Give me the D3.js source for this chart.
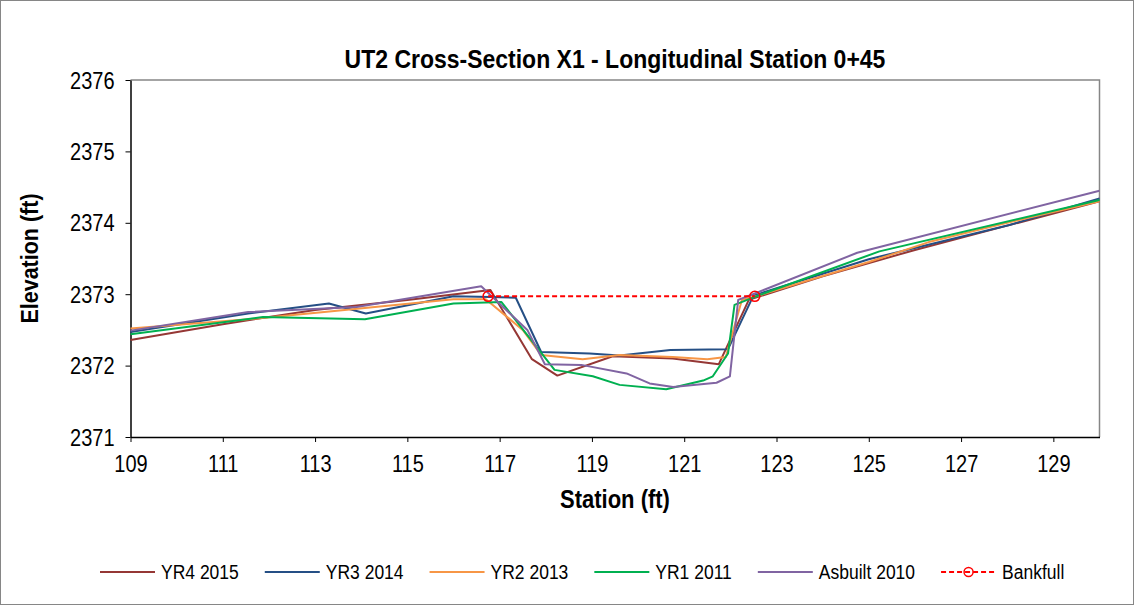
<!DOCTYPE html>
<html lang="en">
<head>
<meta charset="UTF-8">
<title>UT2 Cross-Section X1</title>
<script src="https://d3js.org/d3.v7.min.js"></script>
<style>
  body { margin:0; background:#fff; }
  text { font-family: "Liberation Sans", Arial, sans-serif; fill:#000; }
  .series { fill:none; stroke-width:2px; stroke-linejoin:round; }
  .axis path, .axis line { stroke:#000; }
</style>
</head>
<body>
<script>
// ---- data ----
var yr4Station = [109, 111, 113, 115, 116.8, 117.7, 118.25, 119.45, 120.75, 121.75, 122.4, 124, 126, 128, 130];
var yr4Elev    = [2372.36, 2372.58, 2372.78, 2372.92, 2373.06, 2372.09, 2371.86, 2372.13, 2372.10, 2372.02, 2372.92, 2373.25, 2373.62, 2373.96, 2374.30];

var yr3Station = [109, 111.55, 113.3, 114.1, 116, 116.8, 117.35, 117.9, 118.95, 119.6, 120.7, 121.95, 122.5, 125, 128.05, 130];
var yr3Elev    = [2372.47, 2372.73, 2372.87, 2372.73, 2372.97, 2372.96, 2372.95, 2372.19, 2372.17, 2372.14, 2372.22, 2372.23, 2372.98, 2373.49, 2373.97, 2374.34];

var yr2Station = [109, 111.55, 113.2, 116, 116.7, 117.5, 117.9, 118.8, 119.6, 120.75, 121.5, 121.9, 122.25, 122.55, 125, 126.3, 128, 130];
var yr2Elev    = [2372.52, 2372.65, 2372.75, 2372.93, 2372.93, 2372.50, 2372.15, 2372.09, 2372.15, 2372.12, 2372.09, 2372.12, 2372.92, 2372.97, 2373.45, 2373.73, 2374.00, 2374.30];

var yr1Station = [109, 111.87, 114.08, 116, 117.04, 118.19, 119.02, 119.6, 120.61, 121.41, 121.62, 121.95, 122.09, 122.6, 125.23, 130];
var yr1Elev    = [2372.44, 2372.68, 2372.65, 2372.87, 2372.89, 2371.94, 2371.85, 2371.73, 2371.67, 2371.79, 2371.85, 2372.17, 2372.85, 2372.98, 2373.60, 2374.32];

var asbStation = [109, 111.55, 113.9, 116.6, 117.6, 117.98, 118.77, 119.75, 120.25, 120.76, 121.7, 121.99, 122.17, 122.49, 124.75, 130];
var asbElev    = [2372.49, 2372.75, 2372.82, 2373.11, 2372.50, 2372.02, 2372.01, 2371.89, 2371.75, 2371.70, 2371.76, 2371.85, 2372.92, 2373.00, 2373.58, 2374.45];

var bkfStation = [116.75, 122.53];
var bkfElev    = [2372.97, 2372.97];

var seriesNames = ["YR4 2015", "YR3 2014", "YR2 2013", "YR1 2011", "Asbuilt 2010", "Bankfull"];
var xTicks = [109, 111, 113, 115, 117, 119, 121, 123, 125, 127, 129];
var yTicks = [2371, 2372, 2373, 2374, 2375, 2376];

var colors = ["#953735", "#254f85", "#f79646", "#00b050", "#8064a2", "#ff0000"];

function pairs(xs, ys) { return xs.map(function(x, i){ return {s:x, e:ys[i]}; }); }
var series = [
  pairs(yr4Station, yr4Elev),
  pairs(yr3Station, yr3Elev),
  pairs(yr2Station, yr2Elev),
  pairs(yr1Station, yr1Elev),
  pairs(asbStation, asbElev)
];
var bankfull = pairs(bkfStation, bkfElev);

// ---- layout ----
var width = 1134, height = 605;
var plot = {left:130.5, top:80, right:1099.5, bottom:437};
var stretch = 1.15;   // text in the original is a little taller than wide

var svg = d3.select("body").append("svg")
    .attr("width", width).attr("height", height);

svg.append("rect")
    .attr("x", 0.5).attr("y", 0.5)
    .attr("width", width-1).attr("height", height-1)
    .attr("fill", "#fff").attr("stroke", "#868686");

var x = d3.scaleLinear().domain([109, 130]).range([plot.left, plot.right]);
var y = d3.scaleLinear().domain([2371, 2376]).range([plot.bottom, plot.top]);

// plot area frame (top/right grey)
svg.append("path")
    .attr("d", "M" + plot.left + "," + plot.top + "H" + plot.right + "V" + plot.bottom)
    .attr("fill", "none").attr("stroke", "#868686").attr("stroke-width", 1.5);

var xAxis = svg.append("g").attr("class", "axis")
    .attr("transform", "translate(0," + plot.bottom + ")")
    .call(d3.axisBottom(x).tickValues(xTicks).tickSize(5).tickSizeOuter(0));
var yAxis = svg.append("g").attr("class", "axis")
    .attr("transform", "translate(" + plot.left + ",0)")
    .call(d3.axisLeft(y).tickValues(yTicks).tickSize(5).tickSizeOuter(0).tickFormat(d3.format("d")));

xAxis.selectAll("line").attr("stroke", "#868686");
yAxis.selectAll("line").attr("stroke", "#868686");
xAxis.select(".domain").attr("stroke-width", 1.5);
yAxis.select(".domain").attr("stroke-width", 1.5);

xAxis.selectAll("text")
    .attr("font-size", 20).attr("font-family", "Liberation Sans, Arial, sans-serif")
    .attr("dy", null).attr("y", 0)
    .attr("transform", "translate(0,35) scale(1," + stretch + ")");
yAxis.selectAll("text")
    .attr("font-size", 20).attr("font-family", "Liberation Sans, Arial, sans-serif")
    .attr("dy", null).attr("x", 0)
    .attr("transform", "translate(-16,8) scale(1," + stretch + ")");

// ---- lines ----
var line = d3.line().x(function(d){ return x(d.s); }).y(function(d){ return y(d.e); });

svg.selectAll("path.series")
  .data(series)
  .join("path")
    .attr("class", "series")
    .attr("stroke", function(d, i){ return colors[i]; })
    .attr("d", line);

svg.append("path")
    .attr("class", "series")
    .attr("stroke", colors[5])
    .attr("stroke-width", 1.8)
    .attr("stroke-dasharray", "5,3")
    .attr("d", line(bankfull));

svg.selectAll("circle.bkf")
  .data(bankfull)
  .join("circle")
    .attr("class", "bkf")
    .attr("cx", function(d){ return x(d.s); })
    .attr("cy", function(d){ return y(d.e); })
    .attr("r", 5)
    .attr("fill", "none").attr("stroke", colors[5]).attr("stroke-width", 1.5);

// ---- titles ----
function stretched(sel, tx, ty, rot) {
  return sel.attr("transform", "translate(" + tx + "," + ty + ")" + (rot ? " rotate(" + rot + ")" : "") + " scale(1," + stretch + ")");
}
stretched(svg.append("text"), (plot.left + plot.right)/2, 68)
    .attr("text-anchor", "middle").attr("font-weight", "bold").attr("font-size", 23)
    .text("UT2 Cross-Section X1 - Longitudinal Station 0+45");

stretched(svg.append("text"), (plot.left + plot.right)/2, 508)
    .attr("text-anchor", "middle").attr("font-weight", "bold").attr("font-size", 22)
    .text("Station (ft)");

svg.append("text")
    .attr("transform", "translate(38," + ((plot.top + plot.bottom)/2) + ") rotate(-90) scale(1," + stretch + ")")
    .attr("text-anchor", "middle").attr("font-weight", "bold").attr("font-size", 21.5)
    .text("Elevation (ft)");

// ---- legend ----
var legend = svg.append("g").attr("transform", "translate(100,572)");
var lx = 0;
seriesNames.forEach(function(name, i) {
  var g = legend.append("g").attr("transform", "translate(" + lx + ",0)");
  var ln = g.append("line").attr("x1", 0).attr("x2", 55).attr("y1", 0).attr("y2", 0)
      .attr("stroke", colors[i]).attr("stroke-width", 2);
  if (i === 5) {
    ln.attr("stroke-dasharray", "5,3").attr("stroke-width", 1.8);
    g.append("circle").attr("cx", 27.5).attr("cy", 0).attr("r", 4.5)
      .attr("fill", "none").attr("stroke", colors[i]).attr("stroke-width", 1.5);
  }
  var t = g.append("text").attr("font-size", 17.5)
      .attr("transform", "translate(61,6.5) scale(1," + stretch + ")")
      .text(name);
  lx += 61 + t.node().getComputedTextLength() + 26;
});
</script>
</body>
</html>
